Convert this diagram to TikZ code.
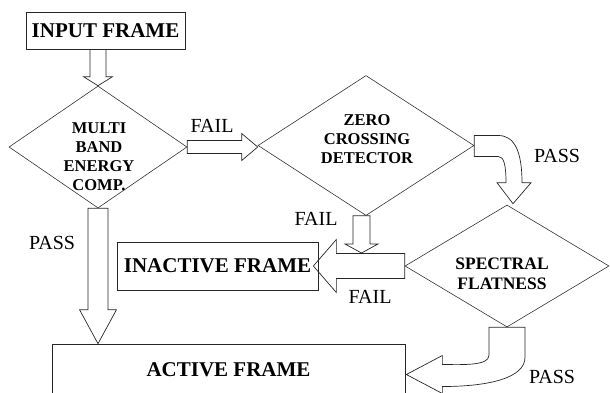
\documentclass[tikz,border=0pt]{standalone}
\usepackage{fontspec}
\setmainfont{Liberation Serif}
\usetikzlibrary{shapes.geometric,calc}

% hollow block arrows between two anchors
\newcommand{\downblk}[5]{%
  \draw[blk] let \p1=(#1), \p2=(#2) in
    (\x2-#3,\y1) -- (\x2-#3,\y2+#5) -- (\x2-#4,\y2+#5) -- (\x2,\y2)
    -- (\x2+#4,\y2+#5) -- (\x2+#3,\y2+#5) -- (\x2+#3,\y1) -- cycle;}
\newcommand{\rightblk}[5]{%
  \draw[blk] let \p1=(#1), \p2=(#2) in
    (\x1,\y1+#3) -- (\x2-#5,\y1+#3) -- (\x2-#5,\y1+#4) -- (\x2,\y1)
    -- (\x2-#5,\y1-#4) -- (\x2-#5,\y1-#3) -- (\x1,\y1-#3) -- cycle;}
\newcommand{\leftblk}[5]{%
  \draw[blk] let \p1=(#1), \p2=(#2) in
    (\x1,\y1+#3) -- (\x2+#5,\y1+#3) -- (\x2+#5,\y1+#4) -- (\x2,\y1)
    -- (\x2+#5,\y1-#4) -- (\x2+#5,\y1-#3) -- (\x1,\y1-#3) -- cycle;}

\begin{document}
\begin{tikzpicture}[x=1pt, y=-1pt,
  box/.style={draw=black!85, line width=0.7pt, inner sep=1pt,
    font=\fontsize{21}{25}\selectfont\bfseries},
  dia/.style={draw=black!80, line width=0.6pt, diamond, inner sep=0pt},
  dtext/.style={align=center, font=\fontsize{16.5}{19}\selectfont\bfseries},
  blk/.style={draw=black!85, line width=0.7pt, line join=miter},
  lbl/.style={font=\fontsize{20}{24}\selectfont}
]
  \useasboundingbox (0,0) rectangle (610,392);
  \clip (0,0) rectangle (610,392);

  \node[box, minimum width=159pt, minimum height=37pt] (input) at (105.5,30.5) {INPUT FRAME};

  \node[dia, minimum width=178pt, minimum height=122pt] (mbe) at (98,147) {};
  \node[dtext] (mbe-t) at (99,157) {MULTI\\BAND\\ENERGY\\COMP.};

  \node[dia, minimum width=216pt, minimum height=140pt] (zcd) at (366,145.5) {};
  \node[dtext] (zcd-t) at (367,139) {ZERO\\CROSSING\\DETECTOR};

  \node[dia, minimum width=204pt, minimum height=122pt] (sf) at (507,266) {};
  \node[dtext, font=\fontsize{17.5}{20}\selectfont\bfseries] (sf-t) at (502,274) {SPECTRAL\\FLATNESS};

  \node[box, minimum width=201pt, minimum height=48pt] (inact) at (217.5,266) {INACTIVE FRAME};
  \node[box, minimum width=353pt, minimum height=51pt] (act) at (228.5,369.5) {ACTIVE FRAME};

  \coordinate (failtop) at (361.5,253);

  % straight arrows
  \downblk{input.south}{mbe.north}{8pt}{14.5pt}{9pt}
  \rightblk{mbe.east}{zcd.west}{6.5pt}{13.5pt}{16pt}
  \downblk{zcd.south}{failtop}{8.5pt}{16.5pt}{9pt}
  \leftblk{sf.west}{[xshift=-5pt]inact.east}{12.5pt}{26.5pt}{23pt}
  \downblk{mbe.south}{mbe.south |- act.north}{10pt}{18.5pt}{34pt}

  % bent arrows
  \draw[blk] let \p1=(zcd.east), \p2=(sf.north) in
    (\x1,\y1+10pt) -- (\x1+24pt,\y1+10pt)
    .. controls (\x2+7pt,\y1+10pt) and (\x2+15pt,\y1-5pt) .. (\x2+15pt,\y2+22pt)
    -- (\x2+24pt,\y2+22pt) -- (\x2+6pt,\y2+1pt) -- (\x2-10pt,\y2+22pt) -- (\x2-1pt,\y2+22pt)
    .. controls (\x2-1pt,\y1-20pt) and (\x2-3pt,\y1-11pt) .. (\x1+24pt,\y1-11pt)
    -- (\x1,\y1-11pt) -- cycle;
  \draw[blk] let \p1=(sf.south), \p2=(act.east) in
    (\x1-18pt,\y1) -- (\x1-18pt,\y1-28pt)
    .. controls (\x1-18pt,\y1-39pt) and (\x2+55pt,\y2+5pt) .. (\x2+37pt,\y2+5pt)
    -- (\x2+37pt,\y2+14pt) -- (\x2+1pt,\y2-5pt) -- (\x2+37pt,\y2-24pt) -- (\x2+37pt,\y2-17pt)
    .. controls (\x2+85pt,\y2-17pt) and (\x1+18pt,\y2-8pt) .. (\x1+18pt,\y1-30pt)
    -- (\x1+18pt,\y1) -- cycle;

  \node[lbl] (fail1) at (212,126) {FAIL};
  \node[lbl] (pass1) at (557,156) {PASS};
  \node[lbl] (fail2) at (316,219) {FAIL};
  \node[lbl] (fail3) at (370,297) {FAIL};
  \node[lbl] (pass2) at (52,243) {PASS};
  \node[lbl] (pass3) at (552,377) {PASS};
\end{tikzpicture}
\end{document}
